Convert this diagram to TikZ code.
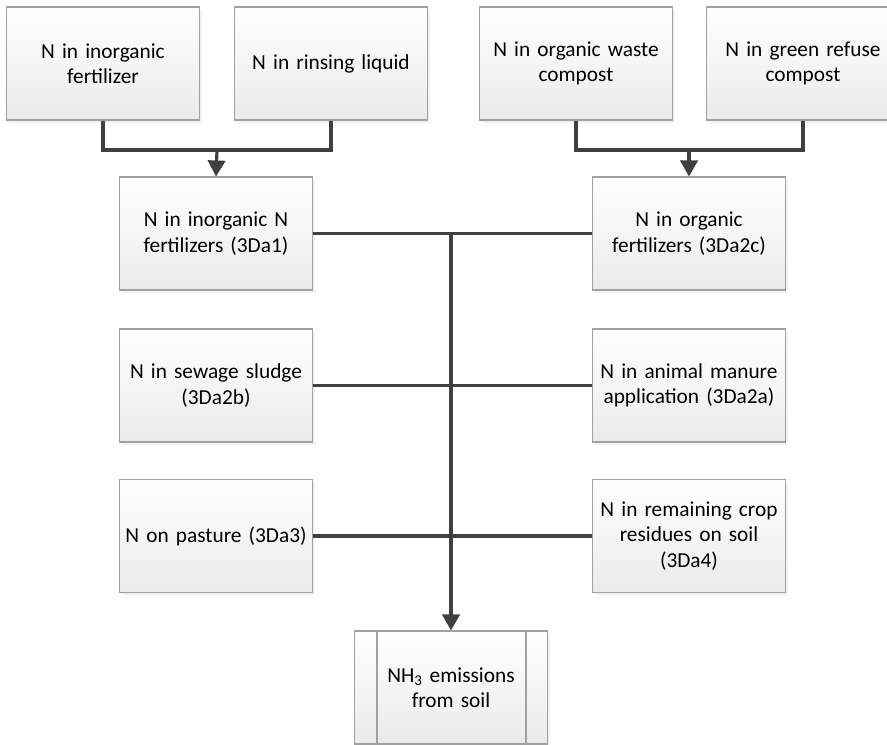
\documentclass[tikz,border=0pt]{standalone}
\usepackage{fontspec}
\setmainfont{Carlito}
\usepackage{tikz}
\usetikzlibrary{positioning,arrows.meta,shadows}

\definecolor{linegray}{HTML}{404040}
\definecolor{boxline}{HTML}{A0A0A0}

\begin{document}
\begin{tikzpicture}[x=0.75pt,y=-0.75pt,>={Triangle[width=13pt,length=12pt]}]
  \tikzstyle{src}=[rectangle,draw=boxline,line width=0.8pt,top color=white,bottom color=black!8,
    drop shadow={shadow xshift=2pt,shadow yshift=-2pt,fill=black!10},
    minimum width=142.5pt,minimum height=84.75pt,text width=138pt,align=center,
    font=\fontsize{16}{19}\selectfont]
  \tikzstyle{link}=[draw=linegray,line width=2.4pt]

  \useasboundingbox (0,0) rectangle (887,744);

  % top row
  \node[src] (inorgfert) at (103,63.5) {N in inorganic\\fertilizer};
  \node[src] (rinsing) at (331,63.5) {N in rinsing liquid};
  \node[src] (orgwaste) at (576,63.5) {N in organic waste\\compost};
  \node[src] (greenref) at (803,63.5) {N in green refuse\\compost};

  % sources of the emissions
  \node[src] (inorgN) at (216,233.5) {N in inorganic N\\fertilizers (3Da1)};
  \node[src] (orgfert) at (689,233.5) {N in organic\\fertilizers (3Da2c)};
  \node[src] (sludge) at (216,385.5) {N in sewage sludge\\(3Da2b)};
  \node[src] (manure) at (689,385.5) {N in animal manure\\application (3Da2a)};
  \node[src] (pasture) at (216,536) {N on pasture (3Da3)};
  \node[src] (residues) at (689,536) {N in remaining crop\\residues on soil\\(3Da4)};

  % result
  \node[src] (emis) at (451,687.5) {NH\textsubscript{3} emissions\\from soil};
  \draw[boxline,line width=0.8pt] ([xshift=17.25pt]emis.north west) -- ([xshift=17.25pt]emis.south west);
  \draw[boxline,line width=0.8pt] ([xshift=-16.5pt]emis.north east) -- ([xshift=-16.5pt]emis.south east);

  \coordinate (joinL) at (217,150);
  \coordinate (joinR) at (689,150);
  \coordinate (hub) at (451,233.5);

  \draw[link] (inorgfert.south) |- (joinL) -| (rinsing.south);
  \draw[link,->] (joinL) -- (inorgN.north);
  \draw[link] (orgwaste.south) |- (joinR) -| (greenref.south);
  \draw[link,->] (joinR) -- (orgfert.north);

  \draw[link] (inorgN.east) -- (orgfert.west);
  \draw[link] (sludge.east) -- (manure.west);
  \draw[link] (pasture.east) -- (residues.west);
  \draw[link,->] (hub) -- (emis.north);

\end{tikzpicture}
\end{document}
